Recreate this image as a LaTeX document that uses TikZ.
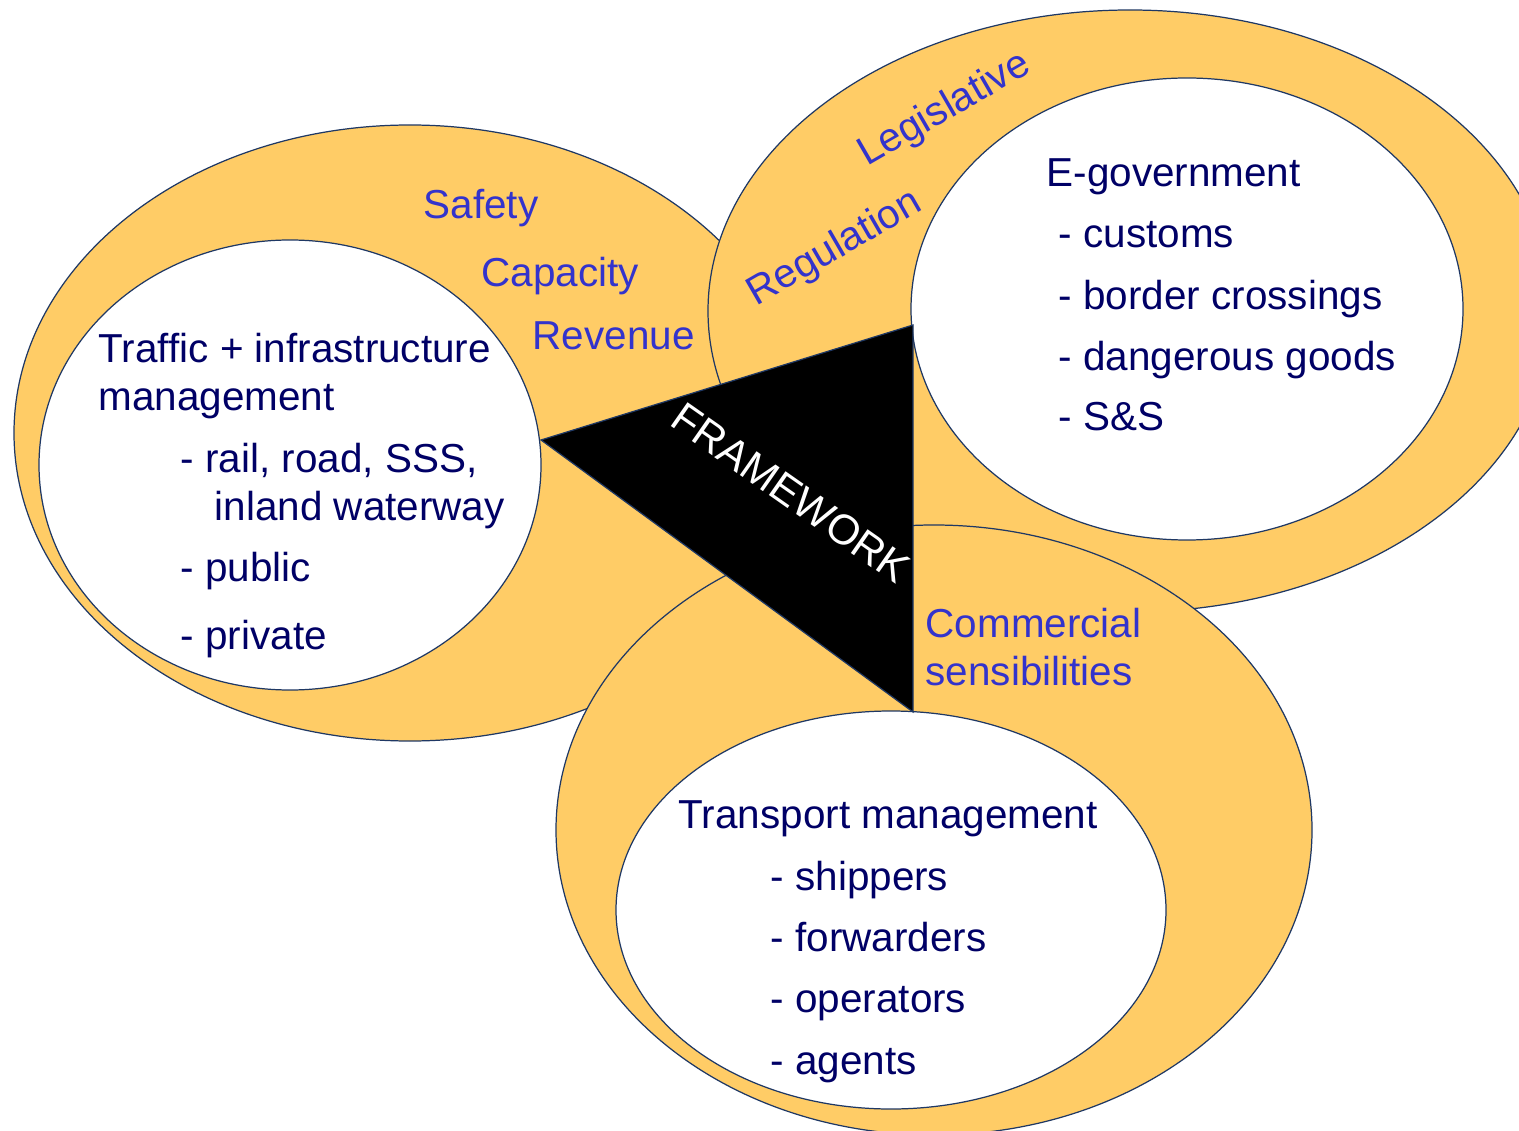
\documentclass[tikz,border=0pt]{standalone}
\usepackage{fontspec}
\setmainfont{Liberation Sans}
\definecolor{ringfill}{RGB}{255,204,102}
\definecolor{rimline}{RGB}{31,56,100}
\definecolor{itemblue}{RGB}{0,0,102}
\definecolor{labelblue}{RGB}{51,51,204}
\tikzstyle{ring}=[draw=rimline,line width=0.35pt,fill=ringfill]
\tikzstyle{hole}=[draw=rimline,line width=0.35pt,fill=white]
\tikzstyle{item}=[anchor=base west,inner sep=0pt,text=itemblue,font=\fontsize{11.5}{13.8}\selectfont]
\tikzstyle{facet}=[anchor=base west,inner sep=0pt,text=labelblue,font=\fontsize{11.5}{13.8}\selectfont]

\begin{document}
\begin{tikzpicture}[x=0.01cm,y=0.01cm]
    \useasboundingbox (0,0) rectangle (1519,-1131);
    \clip (0,0) rectangle (1519,-1131);
    % outer rings
    \path[ring] (410,-433) ellipse [x radius=396, y radius=308];
    \path[ring] (1130,-311) ellipse [x radius=422, y radius=301];
    \path[ring] (934,-830) ellipse [x radius=378, y radius=305];
    % inner holes
    \path[hole] (290,-465) ellipse [x radius=251, y radius=225];
    \path[hole] (1187,-309) ellipse [x radius=276, y radius=231];
    \path[hole] (891,-910) ellipse [x radius=275, y radius=199];
    % framework triangle
    \coordinate (fwl) at (541,-440);
    \coordinate (fwt) at (913,-325);
    \coordinate (fwb) at (913,-712);
    \path[draw=rimline,line width=0.35pt,fill=black] (fwl) -- (fwt) -- (fwb) -- cycle;
    \node[anchor=center,rotate=-35,inner sep=0pt,text=white,
        font=\fontsize{12}{14}\selectfont] (fw) at (791,-493) {FRAMEWORK};
    % left circle
    \path (98,-363) node[item] (traffic) {Traffic + infrastructure}
        ++(0,-48) node[item] (tim) {management}
        ++(82,-62) node[item] (rail) {- rail, road, SSS,}
        ++(34,-48) node[item] (inland) {inland waterway}
        ++(-34,-60) node[item] (public) {- public}
        ++(0,-68) node[item] (private) {- private}
        ;
    % right circle
    \path (1046,-187) node[item] (egov) {E-government}
        ++(12,-61) node[item] (customs) {- customs}
        ++(0,-62) node[item] (border) {- border crossings}
        ++(0,-61) node[item] (dangerous) {- dangerous goods}
        ++(0,-60) node[item] (ss) {- S\&S}
        ;
    % bottom circle
    \path (678,-828) node[item] (transport) {Transport management}
        ++(92,-62) node[item] (shippers) {- shippers}
        ++(0,-61) node[item] (forwarders) {- forwarders}
        ++(0,-61) node[item] (operators) {- operators}
        ++(0,-62) node[item] (agents) {- agents}
        ;
    % ring labels
    \node[facet] (safety) at (423,-219) {Safety};
    \node[facet] (capacity) at (481,-287) {Capacity};
    \node[facet] (revenue) at (532,-350) {Revenue};
    \node[facet] (commercial) at (925,-637) {Commercial};
    \node[facet] (sensib) at (925,-685) {sensibilities};
    \node[facet,anchor=center,rotate=30] (legis) at (945,-110) {Legislative};
    \node[facet,anchor=center,rotate=30] (regul) at (835,-249) {Regulation};
\end{tikzpicture}
\end{document}
